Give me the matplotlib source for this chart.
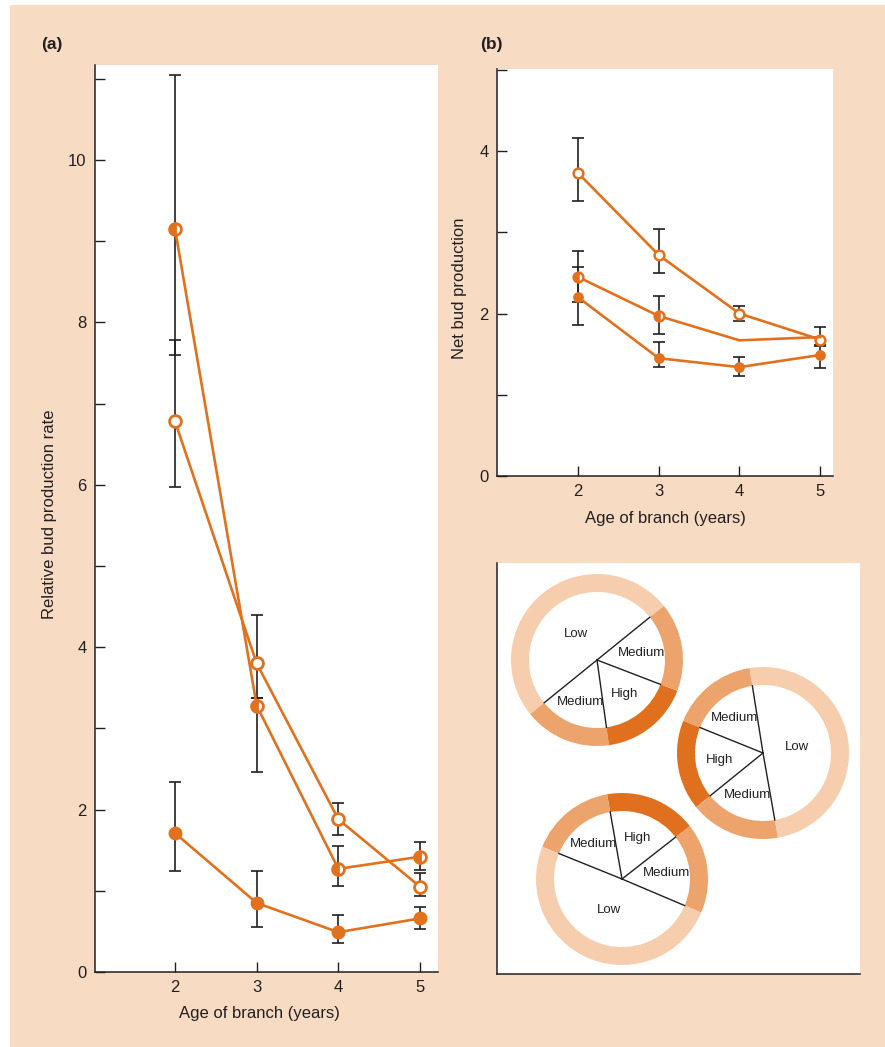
import numpy as np
import matplotlib
matplotlib.use('Agg')
import matplotlib.pyplot as plt
from matplotlib.patches import Wedge, Rectangle

plt.rcParams['font.family'] = ['Liberation Sans', 'DejaVu Sans']

ORANGE = '#E2711D'
INK = '#231F20'
PEACH = '#F8DBC3'
RING_COLORS = {'Low': '#F6CEAE', 'Medium': '#ECA36C', 'High': '#E0701D'}

# ---- data ----
ages = [2, 3, 4, 5]

# (a) relative bud production rate
a_half = [9.15, 3.28, 1.27, 1.42]
a_half_lo = [7.60, 2.46, 1.06, 1.26]
a_half_hi = [11.05, 3.37, 1.55, 1.60]
a_open = [6.78, 3.80, 1.88, 1.05]
a_open_lo = [5.97, 3.37, 1.69, 0.94]
a_open_hi = [7.78, 4.40, 2.08, 1.22]
a_fill = [1.71, 0.85, 0.49, 0.66]
a_fill_lo = [1.24, 0.55, 0.36, 0.53]
a_fill_hi = [2.34, 1.24, 0.70, 0.80]

# (b) net bud production
b_open = [3.73, 2.72, 2.00, 1.68]
b_open_lo = [3.38, 2.50, 1.91, 1.61]
b_open_hi = [4.16, 3.04, 2.09, 1.83]
b_half = [2.45, 1.97, 1.67, 1.71]
b_half_lo = [2.14, 1.75, None, None]
b_half_hi = [2.77, 2.22, None, None]
b_fill = [2.20, 1.45, 1.34, 1.49]
b_fill_lo = [1.86, 1.34, 1.23, 1.33]
b_fill_hi = [2.57, 1.65, 1.46, 1.60]

# (c) light rings: boundary angles (deg) and light level per segment
ring1_edges = [39, 219, 278, 339, 399]
ring1_levels = ['Low', 'Medium', 'High', 'Medium']
ring2_edges = [-80, 99, 158, 219, 280]
ring2_levels = ['Low', 'Medium', 'High', 'Medium']
ring3_edges = [-23, 38, 100, 158, 337]
ring3_levels = ['Medium', 'High', 'Medium', 'Low']

W, H = 885, 1047


def fig_box(x0, y0, x1, y1):
    # pixel box (top-left origin) -> figure fraction rect
    return [x0 / W, 1 - y1 / H, (x1 - x0) / W, (y1 - y0) / H]


def draw_series(ax, y, lo, hi, kind, ms, mew, markevery=None):
    y = np.array(y, float)
    lo = np.array([np.nan if v is None else v for v in lo], float)
    hi = np.array([np.nan if v is None else v for v in hi], float)
    x = np.array(ages, float)
    ok = ~np.isnan(lo)
    ax.errorbar(x[ok], y[ok], yerr=[y[ok] - lo[ok], hi[ok] - y[ok]], fmt='none',
                ecolor=INK, elinewidth=1.2, capsize=4.3, capthick=1.2, zorder=2)
    kw = dict(color=ORANGE, lw=1.9, marker='o', ms=ms, mec=ORANGE, mew=mew,
              zorder=3, markevery=markevery)
    if kind == 'open':
        kw['mfc'] = 'white'
    elif kind == 'fill':
        kw['mfc'] = ORANGE
    else:
        kw.update(fillstyle='left', mfc=ORANGE, markerfacecoloralt='white')
    ax.plot(x, y, **kw)


def style_axes(ax):
    for s in ['top', 'right']:
        ax.spines[s].set_visible(False)
    for s in ['left', 'bottom']:
        ax.spines[s].set_color(INK)
        ax.spines[s].set_linewidth(1.1)
    ax.tick_params(which='both', direction='in', length=7, width=1.0,
                   color=INK, labelcolor=INK, labelsize=12, pad=6)
    ax.set_facecolor('white')


fig = plt.figure(figsize=(W / 100, H / 100), dpi=100)
fig.patch.set_facecolor('white')
fig.add_artist(Rectangle((10 / W, 0), 1 - 10 / W, 1 - 5 / H, transform=fig.transFigure,
                         facecolor=PEACH, edgecolor='none', zorder=-10))

# ---- panel (a) ----
ax_a = fig.add_axes(fig_box(95, 65, 438, 972))
style_axes(ax_a)
draw_series(ax_a, a_half, a_half_lo, a_half_hi, 'half', 8.5, 2.0)
draw_series(ax_a, a_open, a_open_lo, a_open_hi, 'open', 8.5, 2.0)
draw_series(ax_a, a_fill, a_fill_lo, a_fill_hi, 'fill', 8.5, 1.5)
ax_a.set_xlim(1.02, 5.22)
ax_a.set_ylim(0, 11.17)
ax_a.set_xticks(ages)
ax_a.set_yticks([0, 2, 4, 6, 8, 10])
ax_a.set_yticks([1, 3, 5, 7, 9, 11], minor=True)
ax_a.set_ylabel('Relative bud production rate', fontsize=12, color=INK)
ax_a.yaxis.set_label_coords((57 - 95) / 343, 0.505)
ax_a.set_xlabel('Age of branch (years)', fontsize=12, color=INK)
ax_a.xaxis.set_label_coords(0.478, -0.037)
fig.text(41 / W, 1 - 45 / H, '(a)', fontsize=12.5, fontweight='bold', color=INK, va='center')

# ---- panel (b) ----
ax_b = fig.add_axes(fig_box(497, 69, 833, 476))
style_axes(ax_b)
draw_series(ax_b, b_open, b_open_lo, b_open_hi, 'open', 7, 1.8)
draw_series(ax_b, b_half, b_half_lo, b_half_hi, 'half', 7, 1.8, markevery=[0, 1])
draw_series(ax_b, b_fill, b_fill_lo, b_fill_hi, 'fill', 6.5, 1.2)
ax_b.set_xlim(0.996, 5.16)
ax_b.set_ylim(0, 5.01)
ax_b.set_xticks(ages)
ax_b.set_yticks([0, 2, 4])
ax_b.set_yticks([1, 3, 5], minor=True)
ax_b.set_ylabel('Net bud production', fontsize=12, color=INK)
ax_b.yaxis.set_label_coords((467 - 497) / 336, 0.462)
ax_b.set_xlabel('Age of branch (years)', fontsize=12, color=INK)
ax_b.xaxis.set_label_coords(0.5, -0.085)
fig.text(480 / W, 1 - 45 / H, '(b)', fontsize=12.5, fontweight='bold', color=INK, va='center')

# ---- panel (c): crown light rings ----
ax_c = fig.add_axes(fig_box(497, 563, 860, 974))
ax_c.set_facecolor('white')
ax_c.set_xlim(0, 363)
ax_c.set_ylim(0, 411)
ax_c.set_xticks([])
ax_c.set_yticks([])
for s in ['top', 'right']:
    ax_c.spines[s].set_visible(False)
for s in ['left', 'bottom']:
    ax_c.spines[s].set_color(INK)
    ax_c.spines[s].set_linewidth(1.1)

r_out, r_in = 86, 68
label_r = {'Low': 34, 'Medium': 45, 'High': 44}
rings = [((100, 314), ring1_edges, ring1_levels),
         ((266, 221), ring2_edges, ring2_levels),
         ((125, 95), ring3_edges, ring3_levels)]
for (cx, cy), edges, levels in rings:
    for t1, t2, lev in zip(edges[:-1], edges[1:], levels):
        ax_c.add_patch(Wedge((cx, cy), r_out, t1, t2, width=r_out - r_in,
                             facecolor=RING_COLORS[lev], edgecolor='none'))
        mid = np.radians((t1 + t2) / 2)
        ax_c.text(cx + label_r[lev] * np.cos(mid), cy + label_r[lev] * np.sin(mid), lev,
                  fontsize=9.5, color=INK, ha='center', va='center')
    for t in edges[:-1]:
        a = np.radians(t)
        ax_c.plot([cx, cx + r_in * np.cos(a)], [cy, cy + r_in * np.sin(a)],
                  color=INK, lw=1.0)

fig.savefig('out.png', dpi=100, facecolor=fig.get_facecolor())
